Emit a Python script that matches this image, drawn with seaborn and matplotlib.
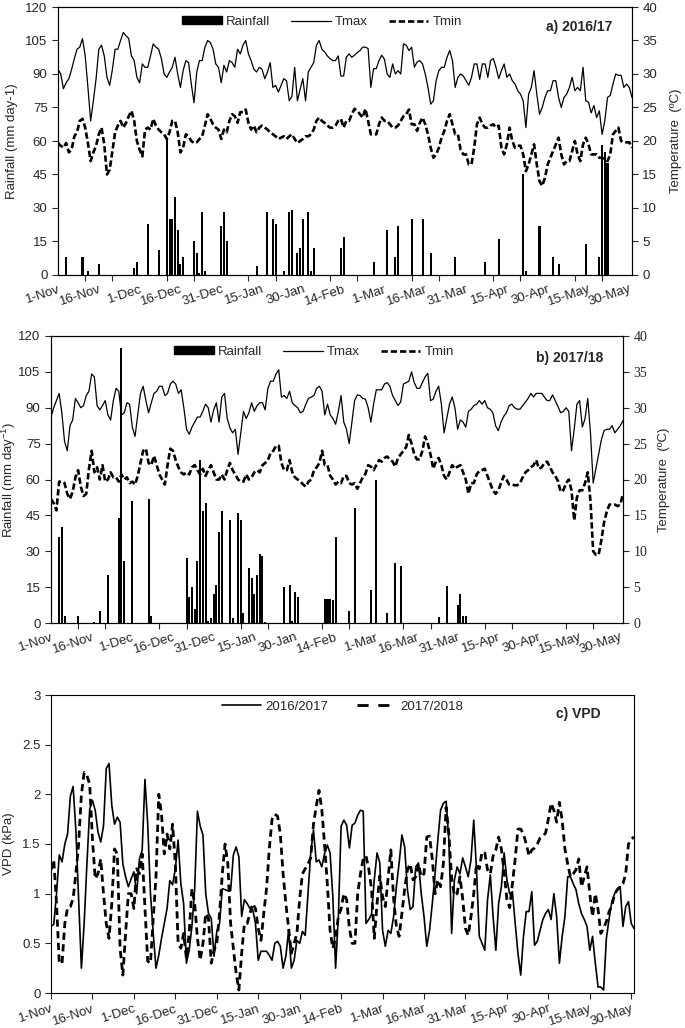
import numpy as np
import matplotlib
matplotlib.use("Agg")
import matplotlib.pyplot as plt
import seaborn as sns
from matplotlib.patches import Patch
from matplotlib.lines import Line2D

# ---------------- data (daily, 1-Nov .. 31-May) ----------------
DATE_LABELS = ['1-Nov', '16-Nov', '1-Dec', '16-Dec', '31-Dec', '15-Jan', '30-Jan',
               '14-Feb', '1-Mar', '16-Mar', '31-Mar', '15-Apr', '30-Apr', '15-May', '30-May']

TMAX_1617 = [30.7, 30.0, 27.8, 28.7, 29.3, 30.7, 32.3, 33.7, 34.0, 35.3,
             32.7, 28.0, 23.0, 26.0, 29.3, 33.7, 34.3, 32.7, 29.5, 28.3,
             30.7, 33.7, 33.7, 35.0, 36.2, 35.7, 35.3, 32.7, 32.0, 29.5,
             28.7, 31.5, 31.0, 31.0, 32.7, 34.5, 34.0, 33.7, 32.3, 30.0,
             29.5, 30.3, 31.0, 32.5, 30.0, 28.0, 30.5, 32.0, 31.7, 28.5,
             25.7, 30.3, 32.0, 32.0, 34.0, 35.0, 34.7, 33.7, 31.5, 31.0,
             28.7, 31.3, 30.3, 32.0, 31.7, 31.0, 33.7, 33.0, 34.3, 35.0,
             33.0, 32.0, 30.7, 30.3, 31.0, 30.7, 29.3, 30.3, 31.7, 28.0,
             28.3, 27.3, 28.3, 29.3, 29.0, 26.0, 26.7, 31.0, 26.0, 27.7,
             29.3, 26.0, 30.3, 31.0, 31.7, 34.3, 35.0, 33.7, 33.3, 32.7,
             32.3, 32.0, 32.0, 32.7, 29.7, 29.7, 32.5, 33.0, 32.5, 32.8,
             33.2, 33.5, 34.0, 34.0, 33.8, 28.0, 30.8, 30.8, 32.0, 32.8,
             32.2, 30.0, 29.5, 31.5, 30.0, 30.5, 30.0, 34.5, 34.3, 33.5,
             34.0, 31.0, 31.8, 32.0, 31.5, 30.0, 28.0, 25.5, 26.0, 29.0,
             30.5, 31.0, 31.0, 32.5, 33.5, 32.0, 28.0, 29.5, 30.0, 29.7,
             29.0, 28.3, 29.5, 31.5, 31.5, 29.2, 31.5, 31.5, 29.5, 32.0,
             32.3, 31.0, 29.3, 30.5, 31.5, 29.5, 30.0, 29.0, 28.5, 27.5,
             27.0, 26.0, 22.0, 27.0, 28.0, 30.5, 27.0, 24.0, 25.0, 26.5,
             27.5, 27.5, 29.0, 29.0, 26.5, 25.0, 26.5, 27.0, 28.0, 29.5,
             27.5, 28.0, 27.5, 31.0, 26.0, 25.8, 24.2, 25.3, 23.5, 24.5,
             21.0, 23.0, 26.5, 26.8, 28.5, 30.0, 29.8, 29.8, 28.0, 28.5,
             28.0, 26.5]

TMIN_1617 = [19.7, 19.3, 19.0, 19.7, 18.3, 18.7, 20.7, 21.3, 23.0, 23.3,
             22.0, 19.7, 17.0, 18.3, 19.3, 21.0, 22.0, 19.5, 15.0, 15.7,
             18.5, 21.3, 22.3, 23.0, 22.0, 22.7, 23.7, 24.5, 23.0, 20.0,
             18.7, 17.7, 21.7, 22.0, 21.7, 23.3, 22.3, 21.7, 21.3, 21.0,
             20.3, 21.3, 23.0, 23.0, 21.3, 18.3, 19.0, 21.0, 20.7, 20.0,
             19.7, 19.8, 20.3, 20.7, 22.3, 24.0, 23.3, 22.5, 22.0, 21.7,
             20.3, 21.7, 21.3, 23.0, 24.0, 23.7, 22.7, 24.3, 24.3, 24.7,
             22.7, 21.7, 22.3, 21.3, 22.0, 22.3, 22.0, 21.7, 21.3, 21.0,
             20.7, 20.3, 20.5, 20.7, 20.3, 20.7, 21.0, 20.3, 19.7, 20.0,
             20.3, 20.7, 20.7, 21.0, 21.7, 23.0, 23.5, 23.0, 22.7, 22.3,
             22.0, 22.0, 22.3, 23.0, 23.3, 22.0, 23.0, 23.0, 24.0, 24.8,
             24.5, 24.0, 23.5, 24.8, 23.0, 21.0, 21.0, 21.0, 22.5, 23.5,
             23.0, 23.0, 22.5, 22.0, 22.0, 22.3, 23.0, 23.7, 24.0, 24.7,
             22.5, 22.5, 21.5, 22.7, 23.5, 22.5, 21.0, 19.0, 17.5, 18.0,
             19.0, 20.5, 21.5, 23.0, 24.0, 22.5, 21.0, 21.0, 18.7, 18.0,
             18.0, 16.5, 16.5, 19.0, 22.5, 23.5, 22.5, 22.0, 22.0, 22.3,
             22.5, 22.0, 22.3, 19.0, 18.0, 19.5, 22.0, 20.0, 19.0, 19.3,
             19.3, 18.0, 15.5, 16.5, 18.0, 19.5, 16.5, 14.0, 13.3, 14.5,
             16.5, 17.5, 18.5, 19.5, 20.5, 18.0, 16.5, 17.0, 17.0, 18.5,
             20.0, 18.0, 17.0, 19.5, 20.5, 19.5, 18.0, 18.0, 18.0, 17.5,
             17.5, 17.3, 17.0, 18.0, 21.0, 21.5, 22.0, 20.0, 19.8, 19.8,
             19.8, 19.0]

RAIN_1617_DAYS = [0, 3, 9, 11, 15, 28, 29, 33, 37, 40, 41, 42, 43, 44, 45, 46, 50, 51, 52, 53,
                  54, 60, 61, 62, 73, 77, 79, 80, 83, 85, 86, 88, 89, 90, 92, 93, 94, 104, 105,
                  116, 121, 124, 125, 130, 134, 137, 146, 157, 162, 171, 172, 177, 182, 184,
                  194, 199, 200, 201, 202]
RAIN_1617_MM = [9, 8, 8, 2, 5, 3, 6, 23, 11, 61, 25, 25, 35, 20, 5, 8, 15, 10, 1, 28,
                2, 22, 28, 15, 4, 28, 25, 23, 2, 28, 29, 10, 12, 25, 28, 2, 12, 12, 17,
                6, 20, 8, 22, 25, 25, 10, 8, 6, 16, 45, 2, 22, 8, 5,
                14, 8, 58, 55, 50]

TMAX_1718 = [28.7, 30.0, 31.0, 32.0, 29.3, 25.3, 24.0, 27.5, 28.3, 31.3,
             30.7, 30.0, 30.3, 31.7, 32.3, 34.7, 34.3, 30.3, 29.7, 30.3,
             31.0, 29.0, 28.3, 31.0, 32.7, 32.3, 29.0, 29.3, 30.7, 30.5,
             27.3, 26.0, 29.0, 32.0, 33.0, 31.0, 29.3, 30.7, 32.0, 32.3,
             33.0, 33.0, 31.7, 32.0, 33.3, 33.7, 33.3, 32.0, 32.5, 30.0,
             27.0, 26.3, 27.3, 28.0, 28.7, 28.7, 29.5, 30.5, 30.0, 28.0,
             29.7, 30.7, 28.0, 31.5, 32.0, 28.5, 27.2, 26.5, 27.0, 23.5,
             26.5, 29.5, 28.5, 29.3, 30.7, 29.5, 30.3, 30.7, 30.7, 29.7,
             32.7, 33.7, 33.7, 34.7, 35.3, 31.5, 31.7, 31.3, 32.3, 30.7,
             30.3, 30.0, 29.3, 29.5, 30.5, 31.3, 31.5, 31.7, 32.7, 33.0,
             32.3, 29.0, 30.5, 29.0, 28.5, 27.7, 29.5, 31.7, 28.0, 27.0,
             25.0, 28.0, 31.0, 31.8, 31.7, 31.3, 31.2, 30.0, 28.0, 30.5,
             32.5, 32.5, 32.5, 33.3, 33.5, 33.0, 31.7, 31.0, 30.3, 30.8,
             33.3, 33.5, 33.7, 35.0, 33.5, 32.7, 32.7, 33.5, 34.3, 34.8,
             31.0, 31.2, 32.3, 33.0, 30.5, 26.5, 28.5, 30.5, 31.5, 30.0,
             27.0, 28.3, 28.0, 27.3, 29.5, 29.8, 30.3, 30.5, 31.0, 30.5,
             31.0, 30.0, 29.8, 29.3, 27.5, 26.8, 28.0, 28.8, 29.3, 30.3,
             30.5, 30.0, 29.8, 29.8, 30.3, 30.8, 31.3, 32.0, 31.5, 32.0,
             32.0, 32.0, 31.5, 31.0, 31.0, 31.8, 31.0, 30.2, 29.3, 29.5,
             30.0, 29.5, 24.0, 27.0, 30.5, 31.0, 27.3, 28.5, 31.3, 26.5,
             19.5, 21.5, 23.5, 25.5, 26.8, 27.0, 27.0, 27.5, 26.5, 27.0,
             27.5, 28.2]

TMIN_1718 = [17.3, 16.7, 15.7, 19.7, 19.7, 19.5, 18.0, 17.3, 18.3, 20.3,
             21.3, 19.0, 17.7, 18.0, 21.5, 24.0, 21.0, 21.7, 20.0, 22.0,
             19.7, 20.0, 21.0, 20.3, 20.3, 19.7, 20.7, 20.0, 20.3, 19.5,
             19.7, 19.3, 20.5, 22.3, 24.0, 24.3, 22.3, 22.0, 23.3, 22.0,
             20.7, 20.0, 19.3, 22.0, 24.3, 24.0, 22.7, 21.7, 21.0, 20.7,
             21.0, 20.7, 21.7, 22.0, 21.3, 20.7, 21.5, 20.5, 21.3, 22.0,
             21.0, 20.0, 20.0, 20.7, 20.0, 21.3, 22.3, 21.3, 20.7, 20.0,
             19.7, 19.7, 20.7, 20.0, 20.3, 21.0, 21.3, 21.0, 22.0, 22.3,
             22.7, 23.7, 24.0, 24.7, 24.7, 22.3, 21.3, 21.3, 22.7, 21.0,
             20.3, 20.0, 19.7, 19.3, 19.0, 19.7, 20.0, 21.3, 21.7, 22.3,
             24.0, 22.0, 22.0, 20.5, 20.0, 19.3, 19.7, 19.5, 20.5, 20.5,
             19.5, 19.3, 19.5, 18.7, 19.5, 20.3, 20.8, 22.0, 21.8, 21.3,
             22.0, 22.7, 22.5, 23.0, 23.2, 22.8, 22.5, 21.8, 23.0, 23.5,
             24.0, 24.5, 26.2, 25.0, 23.5, 22.8, 22.8, 24.0, 26.0, 25.0,
             23.5, 21.5, 22.5, 23.0, 22.0, 20.5, 20.0, 21.0, 22.0, 21.5,
             21.8, 22.0, 21.0, 20.0, 18.0, 19.5, 19.5, 20.7, 21.2, 21.3,
             21.5, 20.5, 19.5, 18.5, 18.0, 18.5, 19.5, 20.5, 20.0, 19.3,
             19.3, 19.2, 19.2, 19.5, 20.3, 21.0, 21.3, 21.7, 22.0, 22.7,
             21.5, 21.7, 22.3, 22.5, 21.8, 21.0, 20.5, 19.8, 18.3, 18.5,
             19.5, 20.0, 18.5, 14.3, 17.5, 18.5, 18.5, 19.5, 21.0, 17.0,
             10.0, 9.5, 9.5, 11.5, 14.0, 15.5, 16.5, 16.5, 16.5, 16.3,
             16.5, 18.0]

RAIN_1718_DAYS = [3, 4, 5, 10, 16, 18, 21, 25, 26, 27, 30, 36, 37, 50, 51, 52, 53, 54, 55, 56,
                  57, 58, 59, 60, 61, 62, 63, 66, 67, 69, 70, 71, 73, 74, 75, 76, 77, 78, 79,
                  86, 88, 89, 90, 91, 101, 102, 103, 104, 105, 110, 112, 118, 120, 124, 127,
                  129, 143, 146, 150, 151, 152, 153]
RAIN_1718_MM = [36, 40, 3, 3, 0.5, 5, 20, 44, 115, 26, 51, 52, 3, 27, 11, 15, 6, 26, 68, 47,
                50, 1, 2, 12, 16, 38, 47, 43, 2, 46, 43, 4, 23, 19, 12, 20, 29, 28, 0.5,
                15, 16, 1, 13, 11, 10, 10, 10, 9.5, 36, 5, 48, 14, 60, 4, 25,
                24, 2.4, 15.6, 7.5, 12, 3, 3]

VPD_1617 = [0.67, 0.69, 1.0, 1.39, 1.32, 1.5, 1.6, 1.98, 2.08, 1.64,
            0.95, 0.25, 0.7, 1.3, 1.85, 1.94, 1.84, 1.62, 1.52, 1.68,
            2.26, 2.31, 1.89, 1.7, 1.77, 1.72, 1.3, 1.17, 1.07, 1.15,
            1.22, 1.0, 1.35, 1.44, 2.15, 1.7, 1.0, 0.6, 0.25, 0.38,
            0.55, 0.7, 0.85, 1.13, 1.09, 1.25, 1.54, 1.1, 0.9, 0.3,
            0.43, 0.67, 1.05, 1.83, 1.68, 1.59, 1.0, 0.8, 0.75, 0.37,
            0.62, 0.7, 1.05, 1.04, 1.03, 1.03, 1.39, 1.47, 1.37, 0.77,
            0.94, 0.9, 0.85, 0.84, 0.7, 0.33, 0.42, 0.42, 0.42, 0.38,
            0.33, 0.5, 0.52, 0.47, 0.25, 0.37, 0.63, 0.25, 0.33, 0.53,
            0.5, 0.62, 0.58, 1.0, 1.41, 1.64, 1.32, 1.34, 1.27, 1.4,
            1.49, 1.41, 0.97, 0.25, 0.77, 1.68, 1.74, 1.69, 1.46, 1.69,
            1.71, 1.79, 1.84, 1.83, 0.7, 0.74, 0.79, 1.14, 1.41, 1.31,
            0.63, 0.47, 0.63, 0.6, 0.77, 1.07, 1.31, 1.59, 1.47, 1.04,
            0.84, 0.87, 1.27, 1.31, 1.0, 0.77, 0.47, 0.63, 0.9, 1.2,
            1.54, 1.84, 1.91, 1.93, 1.54, 0.6, 1.14, 1.27, 1.2, 1.36,
            1.27, 1.17, 1.34, 1.74, 1.24, 0.57, 0.5, 0.43, 0.94, 1.19,
            0.77, 0.43, 0.9, 1.07, 1.41, 1.14, 1.0, 1.02, 0.7, 0.4,
            0.18, 0.57, 0.82, 0.82, 1.02, 0.48, 0.52, 0.63, 0.74, 0.8,
            0.84, 0.74, 1.0, 0.77, 0.3, 0.57, 0.77, 1.17, 1.17, 1.1,
            1.04, 0.9, 0.8, 0.74, 0.67, 0.43, 0.57, 0.3, 0.06, 0.06,
            0.03, 0.55, 0.75, 0.92, 1.0, 1.05, 1.07, 0.67, 0.87, 0.92,
            0.7, 0.65]

VPD_1718 = [1.24, 1.34, 0.9, 0.3, 0.3, 0.7, 0.86, 0.87, 0.95, 1.2,
            1.5, 2.0, 2.22, 2.19, 2.1, 1.55, 1.15, 1.2, 1.35, 1.0,
            0.7, 0.55, 0.9, 1.45, 1.4, 0.45, 0.18, 0.6, 1.0, 1.0,
            0.85, 1.25, 1.2, 1.4, 0.85, 0.32, 0.3, 0.75, 1.17, 2.0,
            1.8, 1.4, 1.6, 1.45, 1.7, 1.3, 0.5, 0.45, 0.6, 0.35,
            0.6, 1.05, 0.9, 0.55, 0.33, 0.5, 0.8, 0.75, 0.3, 0.43,
            0.5, 0.8, 1.2, 1.5, 1.3, 0.7, 0.45, 0.2, 0.03, 0.4,
            0.7, 0.7, 0.8, 0.9, 0.85, 0.65, 0.53, 0.8, 1.05, 1.45,
            1.75, 1.8, 1.78, 1.6, 1.2, 0.9, 0.65, 0.4, 0.5, 0.6,
            0.95, 1.2, 1.25, 1.3, 1.36, 1.7, 1.88, 2.04, 1.85, 1.5,
            1.1, 0.63, 0.45, 0.55, 0.77, 0.85, 1.0, 0.94, 0.65, 0.5,
            0.5, 1.0, 1.2, 1.35, 1.38, 1.25, 1.05, 0.55, 0.9, 1.18,
            0.97, 0.87, 1.15, 1.44, 0.95, 0.67, 0.57, 0.8, 1.05, 1.24,
            1.3, 1.14, 1.17, 1.3, 1.17, 1.2, 1.57, 1.58, 1.35, 1.0,
            1.14, 1.07, 1.3, 1.87, 1.6, 1.15, 0.98, 1.0, 1.17, 0.95,
            0.65, 0.58, 0.77, 1.0, 1.3, 1.25, 1.42, 1.41, 1.24, 1.2,
            1.38, 1.44, 1.57, 1.45, 1.22, 0.94, 0.86, 1.1, 1.35, 1.65,
            1.65, 1.6, 1.5, 1.38, 1.44, 1.46, 1.5, 1.56, 1.58, 1.61,
            1.75, 1.91, 1.84, 1.72, 1.92, 1.74, 1.45, 1.3, 1.17, 1.2,
            1.24, 1.35, 1.07, 1.17, 1.27, 1.0, 0.77, 1.0, 0.84, 0.6,
            0.65, 0.72, 0.82, 0.88, 1.0, 1.04, 1.07, 1.1, 1.2, 1.5,
            1.55, 1.57]

# ---------------- style ----------------
sns.set_style("white")
plt.rcParams['font.family'] = ['Liberation Sans', 'DejaVu Sans']
plt.rcParams['mathtext.default'] = 'regular'
FS = 9.5

W, H = 685, 1028
fig = plt.figure(figsize=(W / 100, H / 100), dpi=100)


def rect(l, r, t, b):
    return [l / W, 1 - b / H, (r - l) / W, (b - t) / H]


def style_x(ax, n, minor_every):
    ax.set_xlim(0, n - 1)
    ax.set_xticks(np.arange(0, n, 15)[:len(DATE_LABELS)])
    ax.set_xticklabels(DATE_LABELS, rotation=18, ha='right', rotation_mode='anchor', fontsize=FS)
    if minor_every:
        ax.set_xticks(np.arange(0, n, minor_every), minor=True)
        ax.tick_params(axis='x', which='major', length=0, pad=6)
        ax.tick_params(axis='x', which='minor', length=4, width=0.8, direction='out', bottom=True)
    else:
        ax.tick_params(axis='x', which='major', length=4, width=0.8, direction='out', bottom=True, pad=3)
    ax.set_xlabel('')


def temp_panel(rc, rain_days, rain_mm, tmax, tmin, title, ylab, serif_right, ylabpad, tlabpad):
    ax = fig.add_axes(rc)
    n = len(tmax)
    days = np.arange(n)
    rain = np.zeros(n)
    rain[rain_days] = rain_mm
    sns.barplot(x=days, y=rain, native_scale=True, color='black', saturation=1,
                width=0.75, errorbar=None, linewidth=0, ax=ax)
    ax.set_ylim(0, 120)
    ax.set_yticks(np.arange(0, 121, 15))
    ax.tick_params(axis='y', labelsize=FS, length=4, width=0.8, direction='out', left=True)
    ax.set_ylabel(ylab, fontsize=FS, labelpad=ylabpad)
    style_x(ax, n, 10)

    ax2 = ax.twinx()
    sns.lineplot(x=days, y=np.asarray(tmax), ax=ax2, color='black', linewidth=0.9)
    sns.lineplot(x=days, y=np.asarray(tmin), ax=ax2, color='black', linewidth=1.9,
                 linestyle=(0, (2.4, 1.1)))
    ax2.set_ylim(0, 40)
    ax2.set_yticks(np.arange(0, 41, 5))
    ax2.tick_params(axis='y', labelsize=FS + (0.5 if serif_right else 0), length=4, width=0.8,
                    direction='out', right=True)
    if serif_right:
        for lab in ax2.get_yticklabels():
            lab.set_fontfamily('Liberation Serif')
    ax2.set_ylabel('Temperature  (ºC)', fontsize=FS, labelpad=tlabpad)
    ax2.set_xlim(0, n - 1)
    for a in (ax, ax2):
        for s in a.spines.values():
            s.set_color('black')
            s.set_linewidth(0.8)
    handles = [Patch(facecolor='black', edgecolor='black'),
               Line2D([], [], color='black', lw=0.9),
               Line2D([], [], color='black', lw=1.9, linestyle=(0, (2.4, 1.1)))]
    ax2.legend(handles, ['Rainfall', 'Tmax', 'Tmin'], loc='center', ncol=3, frameon=False,
               fontsize=FS, handlelength=3.0, handleheight=0.5, handletextpad=0.3,
               columnspacing=1.6, bbox_to_anchor=(0.46, 0.945))
    ax2.text(0.965, 0.925, title, transform=ax2.transAxes, ha='right', va='center',
             fontsize=FS + 0.5, fontweight='bold')
    return ax, ax2


axA, axA2 = temp_panel(rect(58, 632, 7, 275), RAIN_1617_DAYS, RAIN_1617_MM,
                       TMAX_1617, TMIN_1617, 'a) 2016/17', 'Rainfall (mm day-1)', False, 5, 9)
axB, axB2 = temp_panel(rect(51, 623, 336, 623), RAIN_1718_DAYS, RAIN_1718_MM,
                       TMAX_1718, TMIN_1718, 'b) 2017/18', 'Rainfall (mm day$^{-1}$)', True, 0.5, 8)

# ---------------- VPD panel ----------------
axC = fig.add_axes(rect(51, 634, 695, 993))
n = len(VPD_1617)
days = np.arange(n)
sns.lineplot(x=days, y=np.asarray(VPD_1617), ax=axC, color='black', linewidth=1.2)
sns.lineplot(x=np.arange(len(VPD_1718)), y=np.asarray(VPD_1718), ax=axC, color='black',
             linewidth=2.0, linestyle=(0, (2.6, 1.6)))
axC.set_ylim(0, 3)
axC.set_yticks([0, 0.5, 1, 1.5, 2, 2.5, 3])
axC.set_yticklabels(['0', '0.5', '1', '1.5', '2', '2.5', '3'])
axC.tick_params(axis='y', labelsize=FS, length=4, width=0.8, direction='out', left=True)
axC.set_ylabel('VPD (kPa)', fontsize=FS, labelpad=5)
style_x(axC, n, None)
for s in axC.spines.values():
    s.set_color('black')
    s.set_linewidth(0.8)
hC = [Line2D([], [], color='black', lw=1.2),
      Line2D([], [], color='black', lw=2.0, linestyle=(0, (4, 3.5)))]
axC.legend(hC, ['2016/2017', '2017/2018'], loc='center', ncol=2, frameon=False, fontsize=FS,
           handlelength=3.0, handletextpad=0.3, columnspacing=2.2,
           bbox_to_anchor=(0.50, 0.96))
axC.text(0.942, 0.935, 'c) VPD', transform=axC.transAxes, ha='right', va='center',
         fontsize=FS + 0.5, fontweight='bold')

fig.savefig('out.png', dpi=100)
